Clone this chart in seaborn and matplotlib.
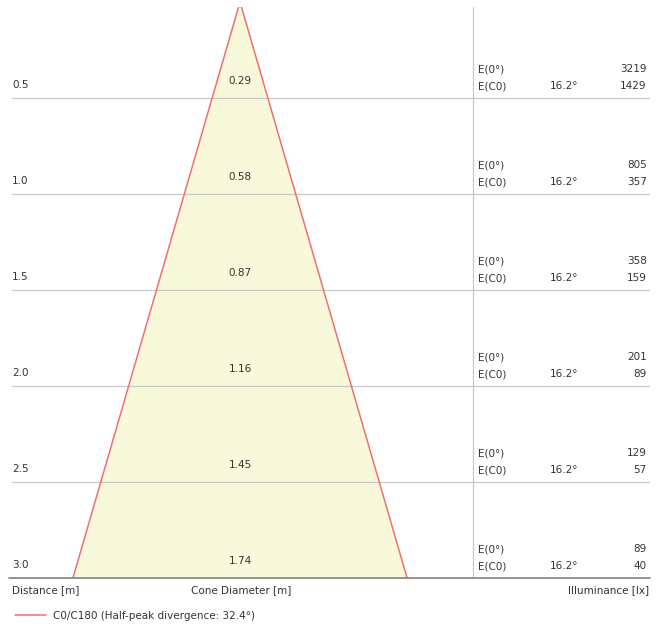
import numpy as np
import pandas as pd
import seaborn as sns
import matplotlib.pyplot as plt

# values
distances = [0.5, 1.0, 1.5, 2.0, 2.5, 3.0]
diameters = [0.29, 0.58, 0.87, 1.16, 1.45, 1.74]
e_center = [3219, 805, 358, 201, 129, 89]
e_c0 = [1429, 357, 159, 89, 57, 40]
half_angle = 16.2
divergence = 32.4

sns.set_theme(style="white")
plt.rcParams['font.family'] = ['DejaVu Sans']
plt.rcParams['font.size'] = 7.5

text_col = "#333333"
edge_col = "#f07070"
fill_col = "#f8f8da"

fig = plt.figure(figsize=(6.65, 6.26), dpi=100)
W, H = 665, 626
ax = fig.add_axes([9 / W, (H - 578) / H, 641 / W, 571 / H])

# cone outline, apex at distance 0
d = np.array([0.0] + distances)
r = np.array([0.0] + diameters) / 2
edge = pd.DataFrame({
    "x": np.concatenate([-r[::-1], r]),
    "y": np.concatenate([d[::-1], d]),
})
ax.fill_betweenx(d, -r, r, color=fill_col, lw=0, zorder=1)
sns.lineplot(data=edge, x="x", y="y", sort=False, estimator=None,
             color=edge_col, lw=1.1, ax=ax, zorder=3,
             label=f"C0/C180 (Half-peak divergence: {divergence}°)")

ax.set_xlim(-1.203, 2.135)
ax.set_ylim(3.0, 0.026)
ax.set_aspect("auto")
for s in ax.spines.values():
    s.set_visible(False)
ax.set_xticks([])
ax.set_yticks([])
ax.set_xlabel("")
ax.set_ylabel("")

# grid lines for each distance
for dist in distances[:-1]:
    ax.axhline(dist, xmin=3 / 641, xmax=1, color="#c8c8c8", lw=0.9, zorder=2)
ax.axhline(distances[-1], color="#808080", lw=1.2, zorder=4, clip_on=False)
ax.axvline(1.214, color="#c8c8c8", lw=0.9, zorder=2)

for dist, dia, e0, ec in zip(distances, diameters, e_center, e_c0):
    ax.text(-1.188, dist - 0.068, f"{dist:.1f}", ha="left", va="center", color=text_col)
    ax.text(0, dist - 0.089, f"{dia:.2f}", ha="center", va="center", color=text_col)
    ax.text(1.240, dist - 0.151, "E(0°)", ha="left", va="center", color=text_col)
    ax.text(1.240, dist - 0.060, "E(C0)", ha="left", va="center", color=text_col)
    ax.text(1.615, dist - 0.060, f"{half_angle}°", ha="left", va="center", color=text_col)
    ax.text(2.118, dist - 0.151, f"{e0}", ha="right", va="center", color=text_col)
    ax.text(2.118, dist - 0.060, f"{ec}", ha="right", va="center", color=text_col)

# axis captions under the base line
fig.text(12 / W, 1 - 590 / H, "Distance [m]", ha="left", va="center", color=text_col)
fig.text(241 / W, 1 - 590 / H, "Cone Diameter [m]", ha="center", va="center", color=text_col)
fig.text(649 / W, 1 - 590 / H, "Illuminance [lx]", ha="right", va="center", color=text_col)

leg = ax.legend(loc="center left", bbox_to_anchor=(6 / W, 1 - 616 / H),
                bbox_transform=fig.transFigure, frameon=False,
                handlelength=2.9, handletextpad=0.7, fontsize=7.5)
for t in leg.get_texts():
    t.set_color(text_col)

fig.savefig("out.png", dpi=100)
